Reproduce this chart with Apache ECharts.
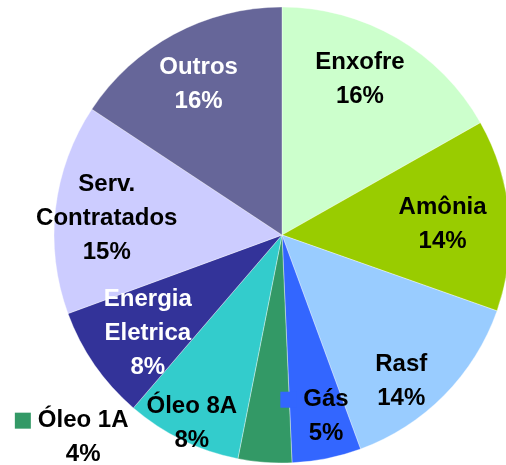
<!DOCTYPE html>
<html>
<head>
<meta charset="utf-8">
<script src="https://cdn.jsdelivr.net/npm/echarts@6/dist/echarts.min.js"></script>
<style>
html,body{margin:0;padding:0;background:#fff;}
#chart{width:506px;height:465px;}
</style>
</head>
<body>
<div id="chart"></div>
<script>
// Data
const categories = ['Enxofre', 'Amônia', 'Rasf', 'Gás', 'Óleo 1A', 'Óleo 8A', 'Energia\nEletrica', 'Serv.\nContratados', 'Outros'];
const shares = [16.8, 13.6, 14.0, 4.9, 3.8, 8.2, 8.1, 14.9, 15.7];
const percentLabels = ['16%', '14%', '14%', '5%', '4%', '8%', '8%', '15%', '16%'];

// Styling / layout (kept separate from data)
const colors = ['#CCFFCC', '#99CC00', '#99CCFF', '#3366FF', '#339966', '#33CCCC', '#333399', '#CCCCFF', '#666699'];
const labelColors = ['#000', '#000', '#000', '#000', '#000', '#000', '#fff', '#000', '#fff'];
const showKey = [false, false, false, true, true, false, false, false, false];
const labelShift = [[19, -55], [44, 0], [36, 64], [21, 67], [-190, 86], [-39, 83], [-38, 32], [-59, -3], [-28, -48]];

const chart = echarts.init(document.getElementById('chart'), null, {renderer: 'canvas'});

const data = categories.map((name, i) => ({
  name: name,
  value: shares[i],
  itemStyle: {color: colors[i]},
  label: {color: labelColors[i]}
}));

const rich = {};
colors.forEach((c, i) => {
  rich['k' + i] = {width: 16, height: 16, backgroundColor: c};
});
rich.g = {width: 7};
rich.p = {width: 23};

chart.setOption({
  animation: false,
  backgroundColor: '#fff',
  series: [{
    type: 'pie',
    center: [282, 235],
    radius: 228,
    startAngle: 90,
    clockwise: true,
    avoidLabelOverlap: false,
    itemStyle: {borderColor: 'rgba(255,255,255,0.6)', borderWidth: 0.6},
    label: {
      show: true,
      position: 'inside',
      fontFamily: '"Liberation Sans", Arial, sans-serif',
      fontWeight: 'bold',
      fontSize: 24,
      lineHeight: 34,
      align: 'center',
      rich: rich,
      formatter: function (p) {
        const i = p.dataIndex;
        const lines = categories[i].split('\n');
        if (showKey[i]) {
          lines[0] = '{k' + i + '| }{g| }' + lines[0] + '{p| }';
        }
        lines.push(percentLabels[i]);
        return lines.join('\n');
      }
    },
    labelLine: {show: false},
    labelLayout: function (params) {
      const s = labelShift[params.dataIndex];
      return {dx: s[0], dy: s[1]};
    },
    emphasis: {disabled: true},
    data: data
  }]
});
</script>
</body>
</html>
